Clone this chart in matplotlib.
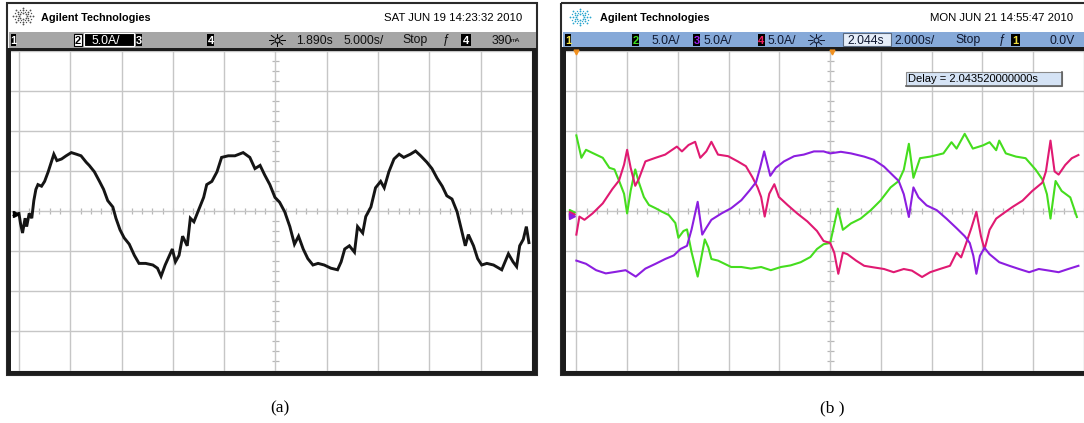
import matplotlib
matplotlib.use("Agg")
import matplotlib.pyplot as plt
from matplotlib.patches import Rectangle
from matplotlib.collections import LineCollection
import numpy as np

# ---------------- data (in divisions) ----------------
a_x = [0.00, 0.03, 0.07, 0.12, 0.15, 0.20, 0.25, 0.29, 0.33, 0.37, 0.44, 0.50, 0.57, 0.63, 0.68,
       0.74, 0.83, 0.92, 1.02, 1.12, 1.21, 1.31, 1.37, 1.47, 1.57, 1.65, 1.73, 1.83, 1.89, 1.97,
       2.05, 2.15, 2.25, 2.34, 2.47, 2.61, 2.70, 2.77, 2.85, 2.92, 2.99, 3.05, 3.12, 3.19, 3.28,
       3.34, 3.41, 3.50, 3.60, 3.66, 3.76, 3.86, 3.95, 4.08, 4.21, 4.37, 4.50, 4.60, 4.70, 4.79,
       4.89, 4.99,
       5.08, 5.18, 5.28, 5.37, 5.45, 5.54, 5.63, 5.73, 5.83, 5.95, 6.08, 6.21, 6.28, 6.35, 6.44,
       6.54, 6.60, 6.70, 6.76, 6.86, 6.95, 7.05, 7.12, 7.21, 7.31, 7.41, 7.50, 7.63, 7.73, 7.83,
       7.95, 8.05, 8.15, 8.25, 8.34, 8.44, 8.54, 8.61, 8.70, 8.76, 8.86, 8.94, 9.02, 9.12, 9.25,
       9.41, 9.54, 9.63, 9.70, 9.76, 9.83, 9.89, 9.94]
a_y = [-0.06, -0.31, -0.55, -0.18, -0.39, -0.06, -0.18, 0.26, 0.54, 0.66, 0.62, 0.74, 0.98, 1.22, 1.42,
       1.26, 1.30, 1.38, 1.46, 1.42, 1.38, 1.22, 1.14, 0.98, 0.74, 0.54, 0.26, 0.10, -0.18, -0.47,
       -0.67, -0.83, -1.11, -1.31, -1.31, -1.35, -1.43, -1.63, -1.35, -1.15, -0.95, -1.27, -1.11, -0.63, -0.87,
       -0.18, -0.27, 0.02, 0.34, 0.66, 0.74, 0.98, 1.34, 1.38, 1.38, 1.46, 1.34, 1.06, 1.14, 0.90,
       0.66, 0.34,
       0.22, -0.02, -0.39, -0.83, -0.63, -0.95, -1.19, -1.35, -1.31, -1.35, -1.43, -1.47, -1.27, -0.95, -0.87,
       -1.03, -0.39, -0.55, -0.14, 0.10, 0.58, 0.74, 0.58, 0.98, 1.30, 1.42, 1.34, 1.42, 1.50, 1.38,
       1.22, 1.06, 0.82, 0.62, 0.38, 0.30, -0.02, -0.39, -0.87, -0.59, -0.87, -1.19, -1.35, -1.31, -1.35,
       -1.47, -1.07, -1.27, -1.39, -0.87, -0.71, -0.39, -0.79]

green_x = [0.00, 0.10, 0.19, 0.32, 0.52, 0.65, 0.75, 0.84, 0.94, 1.00, 1.07, 1.16, 1.23, 1.33, 1.43,
           1.56, 1.69, 1.82, 1.95, 2.01, 2.11, 2.18, 2.27, 2.39, 2.47, 2.53, 2.60, 2.66, 2.79, 2.92,
           3.05, 3.25, 3.44, 3.64, 3.83, 4.03, 4.22, 4.42, 4.61, 4.74, 4.87, 5.00, 5.15, 5.25, 5.41,
           5.60, 5.80, 5.99, 6.19, 6.35, 6.45, 6.55, 6.64, 6.77, 6.97, 7.23, 7.39, 7.49, 7.65, 7.81,
           8.01, 8.14, 8.27, 8.33, 8.46, 8.66, 8.85, 9.05, 9.18, 9.27, 9.34, 9.44, 9.56, 9.73, 9.86]
green_y = [1.89, 1.33, 1.53, 1.45, 1.33, 1.08, 1.04, 0.76, 0.43, -0.06, 0.51, 1.04, 0.72, 0.35, 0.15,
           0.07, -0.02, -0.10, -0.30, -0.67, -0.50, -0.46, -1.03, -1.64, -1.11, -0.71, -0.91, -1.20, -1.24, -1.32,
           -1.40, -1.40, -1.44, -1.40, -1.48, -1.40, -1.36, -1.28, -1.15, -0.95, -0.83, -0.80, 0.06, -0.47, -0.31,
           -0.19, 0.02, 0.26, 0.59, 0.75, 1.03, 1.68, 0.83, 1.32, 1.36, 1.44, 1.72, 1.56, 1.93, 1.56,
           1.64, 1.72, 1.52, 1.76, 1.44, 1.36, 1.32, 1.03, 0.79, 0.42, -0.19, 0.75, 0.50, 0.34, -0.15]

magenta_x = [0.00, 0.06, 0.16, 0.32, 0.52, 0.71, 0.84, 0.94, 1.00, 1.07, 1.16, 1.23, 1.36, 1.56, 1.75,
             1.98, 2.08, 2.21, 2.34, 2.44, 2.56, 2.66, 2.79, 2.99, 3.18, 3.34, 3.47, 3.57, 3.64, 3.71,
             3.80, 3.90, 3.99, 4.16, 4.35, 4.55, 4.74, 4.87, 5.00, 5.08, 5.16, 5.25, 5.34, 5.51, 5.67,
             5.86, 6.06, 6.25, 6.45, 6.61, 6.81, 6.97, 7.16, 7.36, 7.49, 7.58, 7.68, 7.78, 7.88, 7.97,
             8.04, 8.14, 8.27, 8.40, 8.59, 8.79, 8.98, 9.18, 9.25, 9.34, 9.42, 9.50, 9.63, 9.76, 9.89]
magenta_y = [-0.59, -0.14, -0.22, -0.06, 0.19, 0.55, 0.76, 1.16, 1.53, 1.08, 0.63, 0.80, 1.24, 1.33, 1.41,
             1.61, 1.49, 1.65, 1.73, 1.33, 1.49, 1.73, 1.41, 1.37, 1.24, 1.12, 0.84, 0.59, 0.35, -0.14,
             0.43, 0.67, 0.35, 0.15, -0.06, -0.26, -0.50, -0.75, -0.80, -1.04, -1.57, -1.04, -1.08, -1.24, -1.37,
             -1.41, -1.45, -1.53, -1.45, -1.49, -1.65, -1.53, -1.45, -1.37, -1.04, -1.16, -0.80, -0.43, -0.02, -0.63,
             -0.96, -0.47, -0.19, -0.07, 0.10, 0.26, 0.50, 0.71, 0.99, 1.76, 0.99, 0.91, 1.15, 1.32, 1.40]

purple_x = [0.00, 0.19, 0.39, 0.58, 0.78, 0.97, 1.17, 1.36, 1.56, 1.75, 1.92, 2.05, 2.18, 2.27, 2.39,
            2.48, 2.56, 2.66, 2.86, 3.05, 3.25, 3.41, 3.54, 3.62, 3.70, 3.82, 3.93, 4.09, 4.29, 4.48,
            4.68, 4.87, 5.00, 5.21, 5.41, 5.67, 5.86, 6.06, 6.22, 6.35, 6.45, 6.55, 6.64, 6.74, 6.90,
            7.10, 7.29, 7.49, 7.65, 7.75, 7.82, 7.88, 7.95, 8.04, 8.14, 8.33, 8.53, 8.72, 8.92, 9.11,
            9.31, 9.50, 9.69, 9.89]
purple_y = [-1.24, -1.32, -1.48, -1.56, -1.52, -1.48, -1.64, -1.44, -1.32, -1.20, -1.11, -0.95, -0.87, -0.46, 0.23,
            -0.59, -0.42, -0.22, -0.06, 0.07, 0.27, 0.51, 0.72, 1.08, 1.49, 0.88, 1.08, 1.24, 1.37, 1.41,
            1.49, 1.49, 1.44, 1.48, 1.44, 1.36, 1.28, 1.11, 0.91, 0.75, 0.42, -0.15, 0.59, 0.34, 0.14,
            0.02, -0.19, -0.43, -0.63, -0.80, -1.12, -1.57, -1.12, -0.92, -1.08, -1.28, -1.37, -1.45, -1.53, -1.45,
            -1.49, -1.53, -1.45, -1.37]

hdr_a_date = "SAT JUN 19 14:23:32 2010"
hdr_b_date = "MON JUN 21 14:55:47 2010"
delay_text = "Delay = 2.043520000000s"
panel_labels = ["(a)", "(b )"]

# ---------------- figure ----------------
W, H = 1084, 423
fig = plt.figure(figsize=(W / 100, H / 100), dpi=100)
fig.patch.set_facecolor("white")

NARROW = ["Liberation Sans Narrow", "Liberation Sans", "DejaVu Sans"]
SANS = ["Liberation Sans", "DejaVu Sans"]

bg = fig.add_axes([0, 0, 1, 1], zorder=0)
bg.set_xlim(0, W)
bg.set_ylim(H, 0)
bg.axis("off")


def logo(cx, cy, color):
    for ang in np.arange(0, 360, 45):
        r = np.array([3.5, 6.5, 9.5])
        xs = cx + r * np.cos(np.radians(ang)) * 1.05
        ys = cy + r * np.sin(np.radians(ang)) * 0.85
        bg.plot(xs, ys, ls="none", marker="o", ms=1.3, color=color, mec="none")
    for ang in np.arange(22.5, 360, 45):
        r = np.array([5.0, 8.0])
        xs = cx + r * np.cos(np.radians(ang)) * 1.05
        ys = cy + r * np.sin(np.radians(ang)) * 0.85
        bg.plot(xs, ys, ls="none", marker="o", ms=1.0, color=color, mec="none")


def chbox(x, txt, fc, tc, w=7, ec="none"):
    bg.add_patch(Rectangle((x, 34), w, 12, fc=fc, ec=ec, lw=0.8))
    bg.text(x + w / 2, 40.5, txt, ha="center", va="center", color=tc, fontsize=8,
            family=NARROW, fontweight="bold")


def tb_text(x, txt, color="#111111", size=8.8):
    bg.text(x, 40.5, txt, ha="left", va="center", color=color, fontsize=size, family=NARROW)


def sun(cx, color="black"):
    bg.plot([cx], [40], marker="o", ms=3.5, mfc="none", mec=color, mew=0.8)
    for ang in np.arange(0, 360, 45):
        c, s = np.cos(np.radians(ang)), np.sin(np.radians(ang))
        bg.plot([cx + 4 * c, cx + 8 * c], [40 + 3.4 * s, 40 + 6.4 * s], color=color, lw=0.7)


# ---- panel (a) frame ----
bg.add_patch(Rectangle((7, 3), 530, 372, fill=False, ec="#2a2a2a", lw=1.5))
bg.add_patch(Rectangle((9, 32), 527, 16, fc="#a6a6a6", ec="none"))
bg.add_patch(Rectangle((7, 48), 530, 327, fc="#1c1c1c", ec="none"))
logo(23, 16, "#505050")
bg.text(41, 18, "Agilent Technologies", ha="left", va="center", fontsize=7.8,
        fontweight="bold", family=NARROW)
bg.text(522, 18, hdr_a_date, ha="right", va="center", fontsize=8.2, family=NARROW)
chbox(11, "1", "black", "white", w=5)
chbox(74, "2", "white", "black", w=8, ec="black")
bg.add_patch(Rectangle((84, 33.5), 50, 13, fc="black", ec="white", lw=0.8))
bg.text(92, 40.5, "5.0A/", ha="left", va="center", color="white", fontsize=8.8, family=NARROW)
chbox(136, "3", "black", "white", w=6)
chbox(207, "4", "black", "white", w=7)
sun(277)
tb_text(296, "1.890s")
tb_text(343, "5.000s/")
tb_text(402, "Stop")
tb_text(443, "ƒ")
chbox(461, "4", "black", "white", w=10)
tb_text(492, "390")
bg.text(511, 40.5, "mA", ha="left", va="center", fontsize=4.5, family=NARROW)

# ---- panel (b) frame ----
bg.add_patch(Rectangle((561, 3), 560, 372, fill=False, ec="#2a2a2a", lw=1.5))
bg.add_patch(Rectangle((563, 32), 540, 15, fc="#86a9d8", ec="none"))
bg.add_patch(Rectangle((561, 47), 560, 328, fc="#1c1c1c", ec="none"))
logo(580, 17, "#2aa6cf")
bg.text(600, 18, "Agilent Technologies", ha="left", va="center", fontsize=7.8,
        fontweight="bold", family=NARROW)
bg.text(1073, 18, hdr_b_date, ha="right", va="center", fontsize=8.2, family=NARROW)
chbox(565, "1", "black", "#f0e040", w=6)
chbox(632, "2", "black", "#40e020", w=7)
tb_text(651, "5.0A/", color="#101830")
chbox(693, "3", "black", "#a020f0", w=7)
tb_text(704, "5.0A/", color="#101830")
chbox(758, "4", "black", "#f02060", w=7)
tb_text(768, "5.0A/", color="#101830")
sun(816, color="#101830")
bg.add_patch(Rectangle((843, 33.5), 48, 13, fc="#e6eef9", ec="#5a6a80", lw=0.8))
tb_text(847, "2.044s", color="#101830")
tb_text(894, "2.000s/", color="#101830")
tb_text(955, "Stop", color="#101830")
tb_text(999, "ƒ", color="#101830")
chbox(1011, "1", "black", "#f0e040", w=9)
tb_text(1050, "0.0V", color="#101830")

# panel labels
bg.text(280, 408, panel_labels[0], ha="center", va="center", fontsize=12.5,
        family=["Liberation Serif", "DejaVu Serif"])
bg.text(832, 408, panel_labels[1], ha="center", va="center", fontsize=12.5,
        family=["Liberation Serif", "DejaVu Serif"])


# ---------------- scope screens ----------------
def screen(l, r, t, b, xlim, ylim):
    ax = fig.add_axes([l / W, 1 - b / H, (r - l) / W, (b - t) / H], zorder=1)
    ax.set_facecolor("white")
    ax.set_xlim(*xlim)
    ax.set_ylim(*ylim)
    ax.set_xticks(range(0, 11))
    ax.set_yticks(range(-4, 5))
    ax.grid(True, color="#c6c6c6", lw=1.0)
    ax.set_axisbelow(True)
    ax.tick_params(length=0, labelbottom=False, labelleft=False)
    for s in ax.spines.values():
        s.set_visible(False)
    segs = [[(x, -0.07), (x, 0.07)] for x in np.arange(0, 10.01, 0.2)]
    segs += [[(4.93, y), (5.07, y)] for y in np.arange(-4, 4.01, 0.25)]
    ax.add_collection(LineCollection(segs, colors="#b8b8b8", lw=0.9, zorder=0.5))
    return ax


ax_a = screen(11, 532, 51, 371, (-0.155, 9.942), (-3.771, 3.94))
ax_a.plot(a_x, a_y, color="#151515", lw=2.1, solid_joinstyle="miter", zorder=3)

ax_b = screen(566, 1084, 51, 371, (-0.204, 9.883), (-3.829, 3.976))
ax_b.plot(green_x, green_y, color="#45dd1e", lw=1.5, zorder=3)
ax_b.plot(magenta_x, magenta_y, color="#e01a72", lw=1.5, zorder=3)
ax_b.plot(purple_x, purple_y, color="#8c1ee0", lw=1.5, zorder=3)

# ---------------- overlay: markers and delay box ----------------
fg = fig.add_axes([0, 0, 1, 1], zorder=5)
fg.set_xlim(0, W)
fg.set_ylim(H, 0)
fg.axis("off")
fg.patch.set_alpha(0)

fg.plot([16], [214], marker=">", ms=4, color="black")
fg.text(11.5, 214, "2", fontsize=5, va="center", ha="left", family=SANS)
for dy, c in [(0, "#40d820"), (2, "#e01a72"), (4, "#8c1ee0")]:
    fg.plot([572], [212 + dy], marker=">", ms=4, color=c)
fg.plot([576, 832], [52.5, 52.5], ls="none", marker="v", ms=3.5, color="#f09020")

fg.add_patch(Rectangle((906, 72), 156, 14, fc="#d5e3f5", ec="#8a8a8a", lw=0.8))
fg.plot([906, 1062, 1062], [86, 86, 72], color="#606060", lw=1.2)
fg.text(908, 79.5, delay_text, ha="left", va="center", fontsize=8, family=SANS)

fig.savefig("out.png", dpi=100, facecolor="white")
